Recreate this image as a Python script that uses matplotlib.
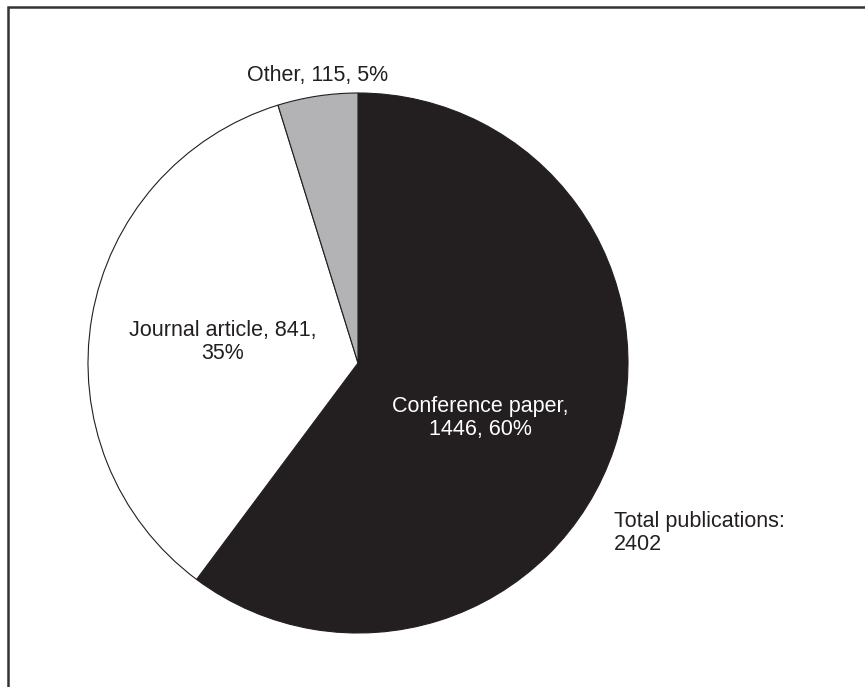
import matplotlib
matplotlib.use("Agg")
import matplotlib.pyplot as plt
from matplotlib.patches import Rectangle

plt.rcParams['font.family'] = ['Liberation Sans', 'DejaVu Sans']

categories = ["Conference paper", "Journal article", "Other"]
values = [1446, 841, 115]
colors = ["#231f20", "#ffffff", "#b3b3b5"]
total = sum(values)

W, H = 865, 687
fig = plt.figure(figsize=(W/100, H/100), dpi=100)

# frame
fig.add_artist(Rectangle((8/W, -0.1), 1.2, (H-7)/H + 0.1, transform=fig.transFigure,
                         fill=False, edgecolor="#333333", lw=1.8))

cx, cy, r = 358, 363, 270
ax = fig.add_axes([(cx-r)/W, (H-cy-r)/H, 2*r/W, 2*r/H])
ax.pie(values, colors=colors, startangle=90, counterclock=False,
       wedgeprops=dict(edgecolor="#231f20", linewidth=0.8))
ax.set_xlim(-1, 1); ax.set_ylim(-1, 1)
ax.set_aspect('auto')
ax.axis('off')

def fx(x): return x/W
def fy(y): return 1 - y/H

pct = [round(v/total*100) for v in values]
fs = 15.5
ls = 1.12
fig.text(fx(318), fy(75), f"{categories[2]}, {values[2]}, {pct[2]}%", ha='center', va='center', fontsize=fs, color="#231f20")
fig.text(fx(223), fy(342), f"{categories[1]}, {values[1]},\n{pct[1]}%", ha='center', va='center', fontsize=fs, color="#231f20", linespacing=ls)
fig.text(fx(480), fy(418), f"{categories[0]},\n{values[0]}, {pct[0]}%", ha='center', va='center', fontsize=fs, color="white", linespacing=ls)
fig.text(fx(614), fy(533), f"Total publications:\n{total}", ha='left', va='center', fontsize=fs, color="#231f20", linespacing=ls)

fig.savefig("out.png", dpi=100, facecolor="white")
